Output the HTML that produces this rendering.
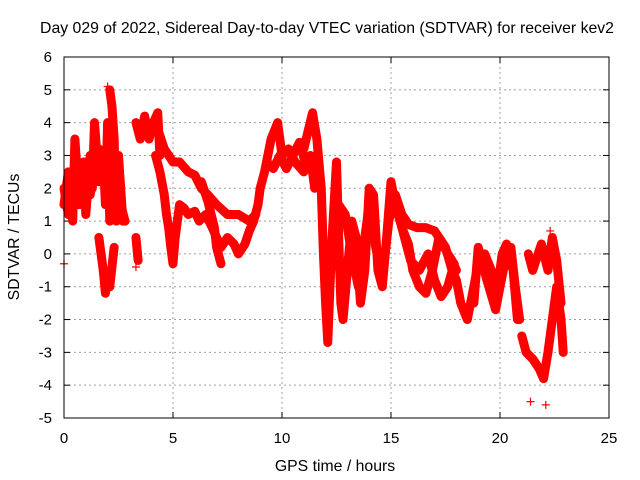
<!DOCTYPE html>
<html><head><meta charset="utf-8"><style>
body{margin:0;background:#fff;}
svg{display:block;font-family:"Liberation Sans",sans-serif;}
</style></head><body>
<svg id="chart" width="640" height="480">
<rect width="640" height="480" fill="#fff"/>
<text x="327" y="33" font-size="15.8" text-anchor="middle">Day 029 of 2022, Sidereal Day-to-day VTEC variation (SDTVAR) for receiver kev2</text>
<text x="335" y="471" font-size="15.8" text-anchor="middle">GPS time / hours</text>
<text transform="translate(19,237) rotate(-90)" font-size="15.8" text-anchor="middle">SDTVAR / TECUs</text>
<g id="grid"></g>
<g id="ticks"></g>
<g id="marks"></g>
<rect x="64" y="57" width="545" height="361" fill="none" stroke="#000"/>
</svg>
<script>
const xTicks=[0,5,10,15,20,25];
const yTicks=[-5,-4,-3,-2,-1,0,1,2,3,4,5,6];
const trackA=[[0,1.5],[0.2,2.5],[0.4,1.0],[0.5,3.5],[0.7,1.5],[0.9,2.8],[1.0,1.2],[1.2,3.0],[1.3,2.0],[1.4,4.0],[1.6,2.2],[1.8,3.0],[1.9,1.5],[2.0,4.0],[2.1,1.0],[2.3,1.5],[2.5,3.0],[2.7,1.0]];
const trackA2=[[0.0,2.0],[0.2,1.2],[0.4,2.2],[0.6,2.0],[0.8,1.8],[1.0,2.5],[1.2,1.8],[1.4,2.5],[1.6,3.2],[1.8,2.5],[2.0,3.0],[2.2,2.0],[2.4,2.5]];
const trackB=[[1.6,0.5],[1.8,-0.5],[1.9,-1.2],[2.0,-0.8],[2.1,-1.0],[2.2,-0.4],[2.3,0.2]];
const trackC=[[2.1,5.0],[2.2,4.5],[2.3,3.5],[2.35,2.0],[2.4,1.0],[2.6,1.5],[2.8,1.0]];
const trackD=[[3.3,4.0],[3.5,3.5],[3.7,4.2],[3.9,3.5],[4.1,4.0],[4.3,4.3],[4.4,3.0]];
const trackD2=[[3.3,0.5],[3.4,-0.2]];
const trackE=[[4.2,3.0],[4.4,2.5],[4.6,1.8],[4.7,1.2],[4.8,0.8],[4.9,0.2],[5.0,-0.3],[5.1,0.5],[5.3,1.5],[5.5,1.4],[5.7,1.2],[6.0,1.3],[6.2,1.0],[6.5,1.2],[6.8,0.8],[7.0,0.5],[7.2,0.2],[7.5,0.5],[7.8,0.3],[8.0,0.0],[8.3,0.3],[8.5,0.7],[8.7,1.0],[8.9,1.5],[9.0,2.0],[9.2,2.5],[9.5,3.5],[9.8,4.0],[10.0,3.0],[10.3,3.2],[10.6,2.8],[11.0,2.5],[11.3,3.0],[11.5,2.0]];
const trackE2=[[9.3,2.8],[9.6,2.6],[9.9,3.0],[10.2,2.6],[10.5,3.0],[10.8,3.4],[11.1,2.7],[11.4,2.6],[11.7,2.2]];
const trackF=[[4.3,3.8],[4.6,3.2],[5.0,2.8],[5.3,2.8],[5.7,2.5],[6.0,2.4],[6.3,2.0],[6.6,1.8],[7.0,1.5],[7.5,1.2],[8.0,1.2],[8.5,1.0],[8.8,1.2]];
const trackG=[[6.3,2.2],[6.6,1.6],[6.9,0.8],[7.0,0.2],[7.2,-0.3]];
const trackH=[[11.0,3.2],[11.4,4.3],[11.6,3.5],[11.8,2.0],[11.9,0.0],[12.0,-1.5],[12.1,-2.7],[12.2,-1.0],[12.3,0.5],[12.5,2.8],[12.6,0.5],[12.7,-1.5],[12.8,-2.0],[13.0,-0.5],[13.2,1.0],[13.4,0.5],[13.6,-1.5],[13.8,-0.5],[14.0,2.0],[14.2,1.8],[14.4,-0.5],[14.6,-1.0],[14.8,0.5],[15.0,2.2],[15.2,1.5],[15.5,0.8],[15.8,0.3],[16.0,-0.5],[16.3,-1.0],[16.6,-1.2],[16.9,-0.5],[17.2,0.5],[17.5,0.2],[17.8,-0.5],[18.0,-0.8],[18.2,-1.5],[18.5,-2.0],[18.8,-1.0],[19.0,-0.3],[19.3,0.0],[19.6,-0.5],[19.9,-1.0],[20.1,0.0],[20.3,0.3],[20.6,-0.5],[20.8,-2.0]];
const trackI=[[12.6,1.5],[12.9,1.2],[13.2,0.0],[13.5,-1.0],[13.8,0.5],[14.0,1.5],[14.3,0.2],[14.6,-0.8],[14.9,1.0],[15.2,1.8],[15.5,1.2],[15.8,0.9],[16.2,0.8],[16.6,0.8],[17.0,0.7],[17.3,0.4],[17.6,0.0],[17.8,-0.2],[18.0,-0.5]];
const trackJ=[[15.5,0.8],[15.9,-0.2],[16.3,-0.5],[16.7,0.0],[17.0,-0.8],[17.3,-1.3],[17.6,-1.0],[17.9,-0.3]];
const trackK=[[18.8,-1.5],[19.0,0.2],[19.4,-0.8],[19.8,-1.7],[20.0,-1.0],[20.3,0.0],[20.5,0.2],[20.7,-1.0],[20.9,-2.0]];
const trackL=[[21.0,-2.5],[21.2,-3.0],[21.5,-3.2],[21.8,-3.5],[22.0,-3.8],[22.2,-3.0],[22.4,-2.0],[22.6,-1.0],[22.8,-2.0],[22.9,-3.0]];
const trackM=[[21.3,0.0],[21.5,-0.5],[21.9,0.3],[22.2,-0.5],[22.4,0.5],[22.6,-0.2],[22.8,-1.5]];
const outliers=[[21.4,-4.5],[22.1,-4.6],[22.3,0.7],[0.0,-0.3],[3.3,-0.4],[2.0,5.1]];
const tracks=[trackA,trackA2,trackB,trackC,trackD,trackD2,trackE,trackE2,trackF,trackG,trackH,trackI,trackJ,trackK,trackL,trackM];

const X0=64,X1=609,Y0=418,Y1=57,XMIN=0,XMAX=25,YMIN=-5,YMAX=6;
function sx(t){return X0+(t-XMIN)/(XMAX-XMIN)*(X1-X0);}
function sy(v){return Y0-(v-YMIN)/(YMAX-YMIN)*(Y0-Y1);}
const NS="http://www.w3.org/2000/svg";
function mk(tag,attrs,parent){const e=document.createElementNS(NS,tag);for(const k in attrs)e.setAttribute(k,attrs[k]);parent.appendChild(e);return e;}
const grid=document.getElementById('grid'),ticks=document.getElementById('ticks'),marks=document.getElementById('marks');
xTicks.forEach(t=>{
  const x=sx(t);
  if(t>XMIN&&t<XMAX){const g=mk('line',{x1:x,x2:x,y1:Y1,y2:Y0,stroke:'#a0a0a0','stroke-dasharray':'2,3'},grid);
  
  }
  mk('line',{x1:x,x2:x,y1:Y0,y2:Y0-6,stroke:'#000'},ticks);
  mk('line',{x1:x,x2:x,y1:Y1,y2:Y1+6,stroke:'#000'},ticks);
  const l=mk('text',{x:x,y:443,'font-size':15,'text-anchor':'middle'},ticks);l.textContent=t;
  
  
});
yTicks.forEach(v=>{
  const y=sy(v);
  if(v>YMIN&&v<YMAX){const g=mk('line',{x1:X0,x2:X1,y1:y,y2:y,stroke:'#a0a0a0','stroke-dasharray':'2,3'},grid);
  
  }
  mk('line',{x1:X0,x2:X0+6,y1:y,y2:y,stroke:'#000'},ticks);
  mk('line',{x1:X1,x2:X1-6,y1:y,y2:y,stroke:'#000'},ticks);
  const l=mk('text',{x:52,y:y+5,'font-size':15,'text-anchor':'end'},ticks);l.textContent=v;
  
  
});
function plus(t,v){
  const x=sx(t),y=sy(v);
  const p=mk('path',{d:`M${x-4},${y}h8M${x},${y-4}v8`,stroke:'#f00','stroke-width':1.2},marks);
  
  
}
tracks.forEach(tr=>{
  const pl=mk('polyline',{points:tr.map(p=>sx(p[0])+','+sy(p[1])).join(' '),fill:'none',stroke:'#f00','stroke-width':9,'stroke-linejoin':'round','stroke-linecap':'round'},marks);
  
  
  tr.forEach(p=>plus(p[0],p[1]));
});
outliers.forEach(p=>plus(p[0],p[1]));
</script>
</body></html>
